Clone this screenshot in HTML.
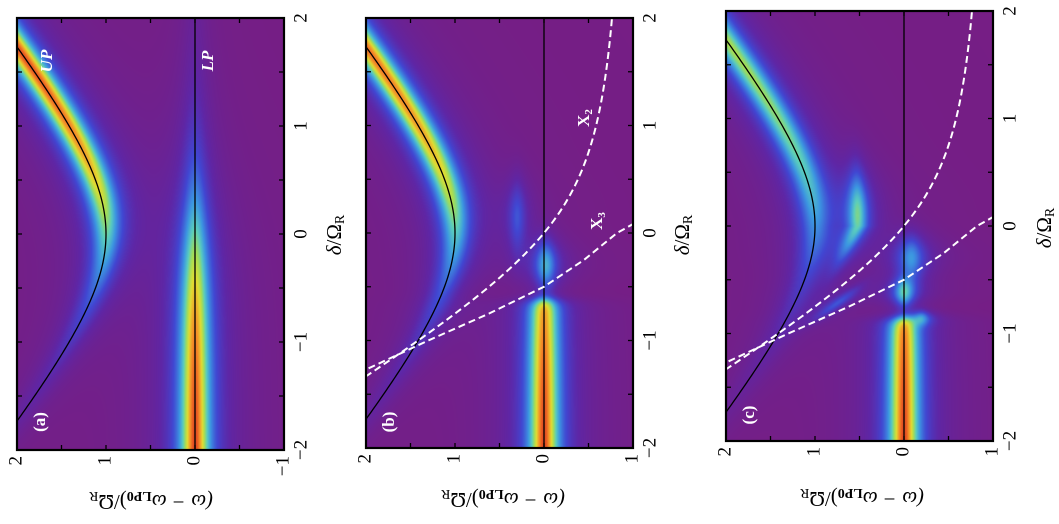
<!DOCTYPE html>
<html><head><meta charset="utf-8"><style>
html,body{margin:0;padding:0;background:#fff;width:1059px;height:524px;overflow:hidden}
canvas{position:absolute}
svg{position:absolute;left:0;top:0}
text{font-family:"Liberation Serif",serif;fill:#000}
</style></head><body>
<canvas id="ca" style="left:17px;top:18px" width="267" height="432"></canvas>
<canvas id="cb" style="left:366px;top:18px" width="267" height="430"></canvas>
<canvas id="cc" style="left:726px;top:11px" width="267" height="430"></canvas>
<svg id="sv" width="1059" height="524" viewBox="0 0 1059 524">
<defs>
<clipPath id="kA"><rect x="17" y="18" width="267" height="432"/></clipPath>
<clipPath id="kB"><rect x="366" y="18" width="267" height="430"/></clipPath>
<clipPath id="kC"><rect x="726" y="11" width="267" height="430"/></clipPath>
</defs>
<g id="lines"></g>
<g font-size="19">
<text transform="translate(17,456) rotate(-90)" text-anchor="end" dominant-baseline="middle">2</text>
<text transform="translate(106,456) rotate(-90)" text-anchor="end" dominant-baseline="middle">1</text>
<text transform="translate(195,456) rotate(-90)" text-anchor="end" dominant-baseline="middle">0</text>
<text transform="translate(284,456) rotate(-90)" text-anchor="end" dominant-baseline="middle">−1</text>
<text transform="translate(302,18) rotate(-90)" text-anchor="middle" dominant-baseline="middle">2</text>
<text transform="translate(302,126) rotate(-90)" text-anchor="middle" dominant-baseline="middle">1</text>
<text transform="translate(302,234) rotate(-90)" text-anchor="middle" dominant-baseline="middle">0</text>
<text transform="translate(302,342) rotate(-90)" text-anchor="middle" dominant-baseline="middle">−1</text>
<text transform="translate(302,450) rotate(-90)" text-anchor="middle" dominant-baseline="middle">−2</text>
<text transform="translate(366,454) rotate(-90)" text-anchor="end" dominant-baseline="middle">2</text>
<text transform="translate(455,454) rotate(-90)" text-anchor="end" dominant-baseline="middle">1</text>
<text transform="translate(544,454) rotate(-90)" text-anchor="end" dominant-baseline="middle">0</text>
<text transform="translate(633,454) rotate(-90)" text-anchor="end" dominant-baseline="middle">1</text>
<text transform="translate(651,18) rotate(-90)" text-anchor="middle" dominant-baseline="middle">2</text>
<text transform="translate(651,125.5) rotate(-90)" text-anchor="middle" dominant-baseline="middle">1</text>
<text transform="translate(651,233) rotate(-90)" text-anchor="middle" dominant-baseline="middle">0</text>
<text transform="translate(651,340.5) rotate(-90)" text-anchor="middle" dominant-baseline="middle">−1</text>
<text transform="translate(651,448) rotate(-90)" text-anchor="middle" dominant-baseline="middle">−2</text>
<text transform="translate(726,447) rotate(-90)" text-anchor="end" dominant-baseline="middle">2</text>
<text transform="translate(815,447) rotate(-90)" text-anchor="end" dominant-baseline="middle">1</text>
<text transform="translate(904,447) rotate(-90)" text-anchor="end" dominant-baseline="middle">0</text>
<text transform="translate(993,447) rotate(-90)" text-anchor="end" dominant-baseline="middle">1</text>
<text transform="translate(1011,11) rotate(-90)" text-anchor="middle" dominant-baseline="middle">2</text>
<text transform="translate(1011,118.5) rotate(-90)" text-anchor="middle" dominant-baseline="middle">1</text>
<text transform="translate(1011,226) rotate(-90)" text-anchor="middle" dominant-baseline="middle">0</text>
<text transform="translate(1011,333.5) rotate(-90)" text-anchor="middle" dominant-baseline="middle">−1</text>
<text transform="translate(1011,441) rotate(-90)" text-anchor="middle" dominant-baseline="middle">−2</text>
</g>
<g font-size="21">
<text transform="translate(151,500) rotate(180)" text-anchor="middle" dominant-baseline="middle"><tspan font-style="italic">(ω − ω</tspan><tspan font-size="14" font-weight="bold" dy="5">LP0</tspan><tspan dy="-5">)/Ω</tspan><tspan font-size="14" dy="5">R</tspan></text>
<text transform="translate(503,498) rotate(180)" text-anchor="middle" dominant-baseline="middle"><tspan font-style="italic">(ω − ω</tspan><tspan font-size="14" font-weight="bold" dy="5">LP0</tspan><tspan dy="-5">)/Ω</tspan><tspan font-size="14" dy="5">R</tspan></text>
<text transform="translate(862,497) rotate(180)" text-anchor="middle" dominant-baseline="middle"><tspan font-style="italic">(ω − ω</tspan><tspan font-size="14" font-weight="bold" dy="5">LP0</tspan><tspan dy="-5">)/Ω</tspan><tspan font-size="14" dy="5">R</tspan></text>
<text transform="translate(336,235) rotate(-90)" text-anchor="middle" dominant-baseline="middle"><tspan font-style="italic">δ</tspan>/Ω<tspan font-size="14" dy="5">R</tspan></text>
<text transform="translate(684,235) rotate(-90)" text-anchor="middle" dominant-baseline="middle"><tspan font-style="italic">δ</tspan>/Ω<tspan font-size="14" dy="5">R</tspan></text>
<text transform="translate(1046,228) rotate(-90)" text-anchor="middle" dominant-baseline="middle"><tspan font-style="italic">δ</tspan>/Ω<tspan font-size="14" dy="5">R</tspan></text>
</g>
<g font-size="17" font-weight="bold" style="fill:#fff">
<text transform="translate(41,422) rotate(-90)" text-anchor="middle" dominant-baseline="middle" style="fill:#fff">(a)</text>
<text transform="translate(390,422) rotate(-90)" text-anchor="middle" dominant-baseline="middle" style="fill:#fff">(b)</text>
<text transform="translate(750,415) rotate(-90)" text-anchor="middle" dominant-baseline="middle" style="fill:#fff">(c)</text>
<text transform="translate(48,61) rotate(-90)" text-anchor="middle" dominant-baseline="middle" font-style="italic" style="fill:#fff">UP</text>
<text transform="translate(209,61) rotate(-90)" text-anchor="middle" dominant-baseline="middle" font-style="italic" style="fill:#fff">LP</text>
<text transform="translate(585,118) rotate(-90)" text-anchor="middle" dominant-baseline="middle" style="fill:#fff">X<tspan font-size="11" dy="4">2</tspan></text>
<text transform="translate(598,221) rotate(-90)" text-anchor="middle" dominant-baseline="middle" style="fill:#fff">X<tspan font-size="11" dy="4">3</tspan></text>
</g>
</svg>
<script>
var P=[{id:'ca',x0:17,y0:18,W:267,H:432,k:'kA',p:0,dash:false},
{id:'cb',x0:366,y0:18,W:267,H:430,k:'kB',p:1,dash:true},
{id:'cc',x0:726,y0:11,W:267,H:430,k:'kC',p:2,dash:true}];
var stops=[[0,118,30,132],[0.12,95,38,165],[0.25,65,70,210],[0.4,60,150,225],[0.52,90,205,190],[0.62,160,220,90],[0.72,225,220,50],[0.85,245,140,40],[1,215,35,30]];
function cm(v){v=Math.max(0,Math.min(1,v));for(var i=1;i<stops.length;i++){if(v<=stops[i][0]){var a=stops[i-1],b=stops[i],t=(v-a[0])/(b[0]-a[0]);return [a[1]+t*(b[1]-a[1]),a[2]+t*(b[2]-a[2]),a[3]+t*(b[3]-a[3])];}}return stops[stops.length-1].slice(1);}
function L(w,c,g){var d=w-c;return g*g/(d*d+g*g);}
function sg(x){return 1/(1+Math.exp(-x));}
function G(x,c,s){var d=(x-c)/s;return Math.exp(-d*d);}
function f(p,d,w){var s=Math.sqrt(1+d*d),wU=(1+d/s)/2,wL=(1-d/s)/2,v=0;
if(p==0){v=Math.pow(wU,0.9)*L(w,s,0.16)+Math.pow(wL,0.9)*L(w,0,0.15);}
else if(p==1){v=0.95*Math.pow(wU,0.9)*L(w,s,0.16)+Math.pow(wL,0.9)*L(w,0,0.15)*sg((-0.62-d)/0.03)
+0.45*G(d,-0.3,0.24)*L(w,-0.02,0.12)+0.25*G(d,0.15,0.35)*L(w,0.3,0.1);}
else{v=0.68*Math.pow(wU,0.9)*L(w,s,0.18)+Math.pow(wL,0.9)*L(w,0,0.15)*sg((-0.86-d)/0.03)
+0.5*G(d,-0.62,0.14)*L(w,0.0,0.11)+0.4*G(d,-0.3,0.22)*L(w,-0.08,0.15)+0.3*G(d,-0.85,0.07)*L(w,-0.2,0.1);
var wc=0.52+0.05*d*d+Math.max(0,-d)*0.6;v+=0.52*G(d,0.1,0.42)*L(w,wc,0.11);
var wx=-d+Math.sqrt(d*d+1)-1;v+=0.25*G(d,-0.72,0.16)*L(w,wx-0.2,0.1);}
return v;}
var svgns="http://www.w3.org/2000/svg",lg=document.getElementById('lines');
function el(n,a){var e=document.createElementNS(svgns,n);for(var k in a)e.setAttribute(k,a[k]);return e;}
P.forEach(function(q){
var c=document.getElementById(q.id),ctx=c.getContext('2d'),img=ctx.createImageData(q.W,q.H);
for(var y=0;y<q.H;y++){var d=2-4*(y+0.5)/q.H;for(var x=0;x<q.W;x++){var w=2-3*(x+0.5)/q.W;var col=cm(f(q.p,d,w));var i=4*(y*q.W+x);img.data[i]=col[0];img.data[i+1]=col[1];img.data[i+2]=col[2];img.data[i+3]=255;}}
ctx.putImageData(img,0,0);
function X(w){return q.x0+(2-w)*q.W/3;}function Y(d){return q.y0+(2-d)*q.H/4;}
var g=el('g',{'clip-path':'url(#'+q.k+')'});
var pts=[];for(var d=-2;d<=2.001;d+=0.02){pts.push(X(Math.sqrt(1+d*d)).toFixed(2)+','+Y(d).toFixed(2));}
g.appendChild(el('polyline',{points:pts.join(' '),fill:'none',stroke:'#000','stroke-width':1.3}));
g.appendChild(el('line',{x1:X(0),y1:q.y0,x2:X(0),y2:q.y0+q.H,stroke:'#000','stroke-width':1.3}));
if(q.dash){pts=[];for(var d=-1.45;d<=2.001;d+=0.02){pts.push(X(-d+Math.sqrt(d*d+1)-1).toFixed(2)+','+Y(d).toFixed(2));}
g.appendChild(el('polyline',{points:pts.join(' '),fill:'none',stroke:'#fff','stroke-width':2,'stroke-dasharray':'7,4'}));
var p3=[[-1.4,2.3],[-1.27,2],[-1,1.3],[-0.75,0.62],[-0.5,0],[-0.25,-0.45],[0,-0.82],[0.12,-1.08]];
g.appendChild(el('polyline',{points:p3.map(function(a){return X(a[1]).toFixed(2)+','+Y(a[0]).toFixed(2)}).join(' '),fill:'none',stroke:'#fff','stroke-width':2,'stroke-dasharray':'7,4'}));}
lg.appendChild(g);
var t=el('g',{stroke:'#000','stroke-width':1.3});
for(var w=-1;w<=2.001;w+=0.5){t.appendChild(el('line',{x1:X(w),y1:q.y0,x2:X(w),y2:q.y0+5}));t.appendChild(el('line',{x1:X(w),y1:q.y0+q.H,x2:X(w),y2:q.y0+q.H-5}));}
for(var d=-2;d<=2.001;d+=0.5){t.appendChild(el('line',{x1:q.x0,y1:Y(d),x2:q.x0+5,y2:Y(d)}));t.appendChild(el('line',{x1:q.x0+q.W,y1:Y(d),x2:q.x0+q.W-5,y2:Y(d)}));}
lg.appendChild(t);
lg.appendChild(el('rect',{x:q.x0,y:q.y0,width:q.W,height:q.H,fill:'none',stroke:'#000','stroke-width':2.2}));
});
</script>
</body></html>
